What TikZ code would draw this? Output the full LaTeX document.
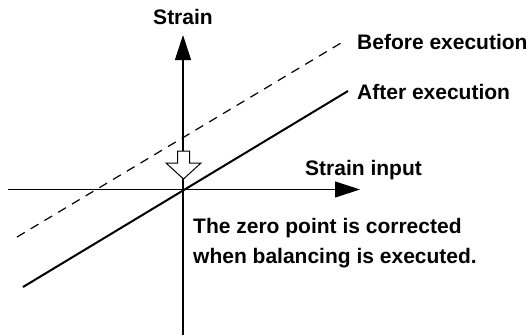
\documentclass[tikz,border=0pt]{standalone}
\usepackage{fontspec}
\setmainfont{Liberation Sans}
\usetikzlibrary{arrows.meta}
\begin{document}
\begin{tikzpicture}[x=1bp,y=-1bp,
  lbl/.style={font=\bfseries\fontsize{21bp}{24bp}\selectfont, inner sep=0pt, anchor=base west},
  axis/.style={line width=1.1bp, -{Triangle[length=25bp,width=16bp]}},
  after/.style={line width=2bp},
  before/.style={line width=1.2bp, dash pattern=on 9bp off 7bp}]
\useasboundingbox (0,0) rectangle (528,335);
\coordinate (O) at (183,189.5);
\coordinate (vb) at (183,335);
\coordinate (vt) at (183,35);
\coordinate (hl) at (8,189.5);
\coordinate (hr) at (360,189.5);
\coordinate (a1) at (23,287);
\coordinate (a2) at (348,91);
\coordinate (b1) at (17,237);
\coordinate (b2) at (341,43);
\draw[axis] (vb) -- (vt);
\draw[axis] (hl) -- (hr);
\draw[before] (b1) -- (b2);
\draw[after] (a1) -- (a2);
\draw[line width=1bp, fill=white] (177.5,151) -- (189.5,151) -- (189.5,163) -- (201,163)
  -- (183.5,179) -- (166,163) -- (177.5,163) -- cycle;
\node[lbl, anchor=base] (ylab) at (183,24) {Strain};
\node[lbl] (blab) at (357,49) {Before execution};
\node[lbl] (alab) at (357,99) {After execution};
\node[lbl] (xlab) at (305,175) {Strain input};
\node[lbl] (note1) at (193,233) {The zero point is corrected};
\node[lbl] (note2) at (193,263) {when balancing is executed.};
\end{tikzpicture}
\end{document}
